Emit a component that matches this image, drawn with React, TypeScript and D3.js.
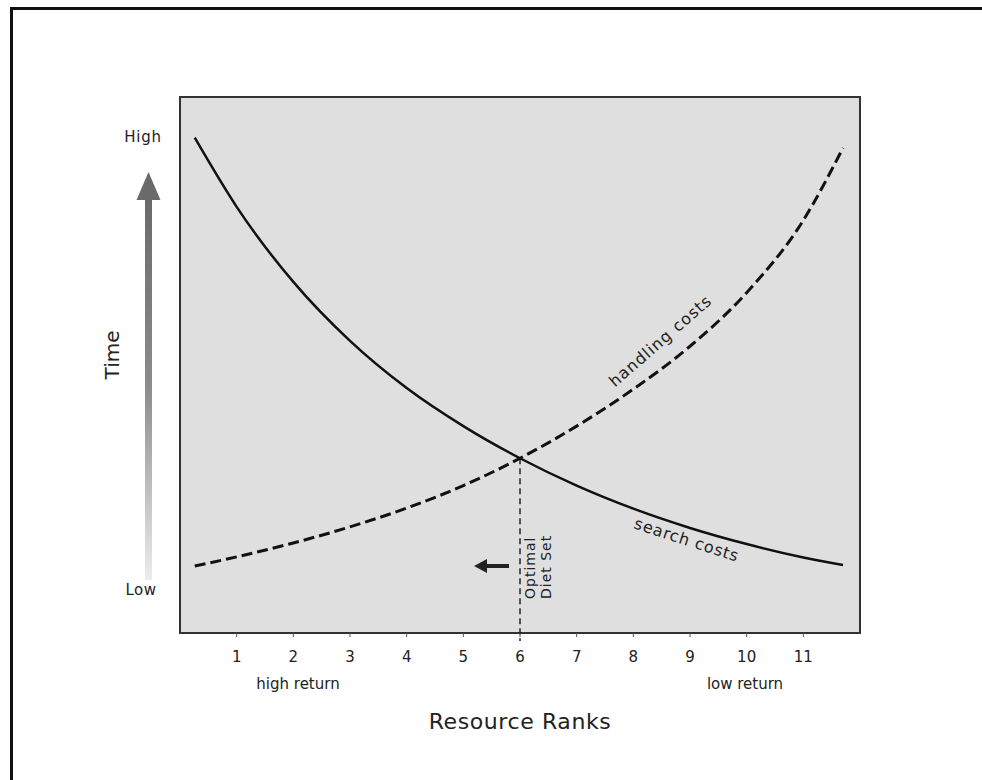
import React from "react";
import * as d3 from "d3";

const ranks = [1, 2, 3, 4, 5, 6, 7, 8, 9, 10, 11];
const curveRank = [0.26, 1, 2, 3, 4, 5, 6, 7, 8, 9, 10, 11, 11.7];
const searchTime = [92.4, 79.5, 65.5, 54.5, 45.7, 38.6, 32.6, 27.5, 23.2, 19.6, 16.6, 14.1, 12.7];
const handlingTime = [12.5, 14.2, 16.8, 19.8, 23.3, 27.5, 32.6, 38.6, 45.5, 53.5, 63.5, 77, 90.5];
const optimalRank = 6;
const optimalTime = 32.6;

const W = 982;
const H = 780;
const L = 180, R = 860, T = 97, B = 633;
const FONT = "'DejaVu Sans', 'Open Sans', sans-serif";

export default function App() {
  const x = d3.scaleLinear().domain([0, 12]).range([L, R]);
  const y = d3.scaleLinear().domain([0, 100]).range([B, T]);
  const line = d3
    .line<[number, number]>()
    .x((d) => x(d[0]))
    .y((d) => y(d[1]))
    .curve(d3.curveMonotoneX);
  const search = line(curveRank.map((r, i) => [r, searchTime[i]] as [number, number])) || "";
  const handling = line(curveRank.map((r, i) => [r, handlingTime[i]] as [number, number])) || "";

  return (
    <svg width={W} height={H} style={{ position: "absolute", left: 0, top: 0, background: "#fff" }}>
      <defs>
        <linearGradient id="arrowGrad" x1="0" y1="0" x2="0" y2="1">
          <stop offset="0" stopColor="#6a6a6a" />
          <stop offset="0.5" stopColor="#8c8c8c" />
          <stop offset="1" stopColor="#ececec" />
        </linearGradient>
      </defs>
      {/* outer frame */}
      <line x1={10} x2={W} y1={8.5} y2={8.5} stroke="#111" strokeWidth={3} />
      <line x1={11.5} x2={11.5} y1={7} y2={H} stroke="#111" strokeWidth={3} />

      {/* plot area */}
      <rect x={L} y={T} width={R - L} height={B - T} fill="#dfdfdf" stroke="#333" strokeWidth={2} />

      {/* ticks */}
      {ranks.map((r) => (
        <g key={r}>
          <line x1={x(r)} x2={x(r)} y1={B} y2={B + 4} stroke="#555" strokeWidth={1} />
          <text x={x(r)} y={662} textAnchor="middle" fontFamily={FONT} fontSize={15} fill="#222">
            {r}
          </text>
        </g>
      ))}

      {/* optimal line */}
      <line
        x1={x(optimalRank)}
        x2={x(optimalRank)}
        y1={y(optimalTime)}
        y2={B + 8}
        stroke="#222"
        strokeWidth={1.5}
        strokeDasharray="6,4"
      />

      {/* curves */}
      <path d={search} fill="none" stroke="#111" strokeWidth={2.5} />
      <path d={handling} fill="none" stroke="#111" strokeWidth={3} strokeDasharray="11,5" />

      {/* curve labels */}
      <text
        transform={`translate(664,345) rotate(-41)`}
        textAnchor="middle"
        fontFamily={FONT}
        fontSize={16}
        letterSpacing={1}
        fill="#222"
      >
        handling costs
      </text>
      <text
        transform={`translate(685,545) rotate(18)`}
        textAnchor="middle"
        fontFamily={FONT}
        fontSize={16}
        letterSpacing={0.8}
        fill="#222"
      >
        search costs
      </text>

      {/* optimal diet set label */}
      <text transform={`translate(535,599) rotate(-90)`} fontFamily={FONT} fontSize={14} letterSpacing={1} fill="#222">
        Optimal
      </text>
      <text transform={`translate(551,599) rotate(-90)`} fontFamily={FONT} fontSize={14} letterSpacing={1} fill="#222">
        Diet Set
      </text>

      {/* small left arrow */}
      <line x1={484} x2={509} y1={566} y2={566} stroke="#222" strokeWidth={4} />
      <path d="M474,566 L487,559 L487,573 Z" fill="#222" />

      {/* Y axis arrow */}
      <rect x={145} y={196} width={7} height={384} fill="url(#arrowGrad)" />
      <path d="M148.5,172 L160.5,200 L136.5,200 Z" fill="#6a6a6a" />

      {/* axis labels */}
      <text x={143} y={142} textAnchor="middle" fontFamily={FONT} fontSize={15} letterSpacing={0.8} fill="#222">
        High
      </text>
      <text x={141} y={595} textAnchor="middle" fontFamily={FONT} fontSize={15} letterSpacing={0.5} fill="#222">
        Low
      </text>
      <text
        transform={`translate(119,355) rotate(-90)`}
        textAnchor="middle"
        fontFamily={FONT}
        fontSize={20}
        fill="#222"
      >
        Time
      </text>
      <text x={298} y={689} textAnchor="middle" fontFamily={FONT} fontSize={15} fill="#222">
        high return
      </text>
      <text x={745} y={689} textAnchor="middle" fontFamily={FONT} fontSize={15} fill="#222">
        low return
      </text>
      <text x={520} y={729} textAnchor="middle" fontFamily={FONT} fontSize={22} letterSpacing={0.6} fill="#222">
        Resource Ranks
      </text>
    </svg>
  );
}
